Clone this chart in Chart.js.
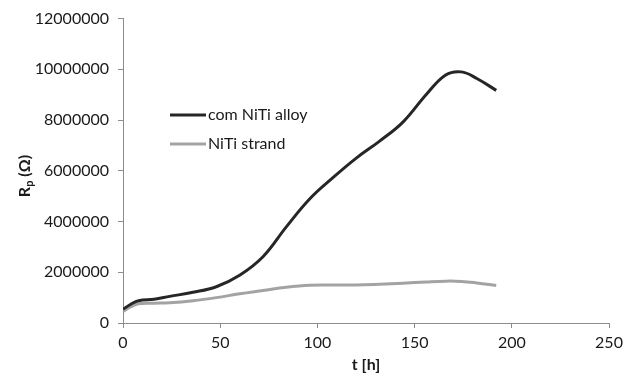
<!DOCTYPE html>
<html>
<head>
<meta charset="utf-8">
<script src="https://cdn.jsdelivr.net/npm/chart.js@4/dist/chart.umd.min.js"></script>
<style>
  html, body { margin: 0; padding: 0; background: #fff; }
  #wrap { width: 640px; height: 376px; position: relative; }
</style>
</head>
<body>
<div id="wrap"><canvas id="chart"></canvas></div>
<script>
// time points [h]
const hours = [0, 4, 8, 16, 24, 36, 48, 60, 72, 84, 96, 108, 120, 132, 144, 156, 166, 174, 182, 192];
// Rp values (Ohm)
const comNiTiAlloy = [540000, 740000, 880000, 940000, 1050000, 1210000, 1430000, 1880000, 2610000, 3790000,
  4890000, 5730000, 6500000, 7170000, 7920000, 9010000, 9780000, 9900000, 9640000, 9170000];
const nitiStrand = [450000, 640000, 760000, 780000, 800000, 880000, 1000000, 1150000, 1280000, 1410000,
  1490000, 1500000, 1500000, 1530000, 1570000, 1620000, 1650000, 1640000, 1580000, 1480000];
const seriesNames = ['com NiTi alloy', 'NiTi strand'];
const xTicks = [0, 50, 100, 150, 200, 250];
const yTicks = [0, 2000000, 4000000, 6000000, 8000000, 10000000, 12000000];

const FONT = 'Lato, "Open Sans", sans-serif';

const ctx = document.getElementById('chart').getContext('2d');

// legend drawn inside the plot area, like the original
const insideLegend = {
  id: 'insideLegend',
  afterDraw(chart) {
    const c = chart.ctx;
    const rows = [115, 144];
    chart.data.datasets.forEach((ds, i) => {
      c.save();
      c.strokeStyle = ds.borderColor;
      c.lineWidth = 3;
      c.beginPath();
      c.moveTo(170, rows[i]);
      c.lineTo(206, rows[i]);
      c.stroke();
      c.fillStyle = '#1a1a1a';
      c.font = '16px ' + FONT;
      c.textBaseline = 'middle';
      c.fillText(ds.label, 208, rows[i]);
      c.restore();
    });
  }
};

// y title with subscript p
const yTitle = {
  id: 'yTitle',
  afterDraw(chart) {
    const c = chart.ctx;
    c.save();
    c.translate(25, 176);
    c.rotate(-Math.PI / 2);
    c.fillStyle = '#1a1a1a';
    c.textBaseline = 'middle';
    const parts = [['R', 'bold 16px ', 0], ['p', 'bold 11px ', 4], [' (\u03A9)', 'bold 16px ', 0]];
    let w = 0;
    parts.forEach(p => { c.font = p[1] + FONT; w += c.measureText(p[0]).width; });
    let x = -w / 2;
    parts.forEach(p => {
      c.font = p[1] + FONT;
      c.fillText(p[0], x, p[2]);
      x += c.measureText(p[0]).width;
    });
    c.restore();
  }
};

const chart = new Chart(ctx, {
  type: 'line',
  data: {
    datasets: [
      {
        label: seriesNames[0],
        data: hours.map((t, i) => ({ x: t, y: comNiTiAlloy[i] })),
        borderColor: '#262626',
        borderWidth: 3,
        pointRadius: 0,
        tension: 0.4,
        fill: false
      },
      {
        label: seriesNames[1],
        data: hours.map((t, i) => ({ x: t, y: nitiStrand[i] })),
        borderColor: '#a3a3a3',
        borderWidth: 3,
        pointRadius: 0,
        tension: 0.4,
        fill: false
      }
    ]
  },
  options: {
    responsive: true,
    maintainAspectRatio: false,
    animation: false,
    layout: { padding: { top: 18, right: 31, left: 0, bottom: 0 } },
    plugins: {
      legend: { display: false },
      tooltip: { enabled: false }
    },
    scales: {
      x: {
        type: 'linear',
        min: 0,
        max: 250,
        afterBuildTicks: s => { s.ticks = xTicks.map(v => ({ value: v })); },
        afterFit: s => { s.height = 53; },
        grid: { drawOnChartArea: false, color: '#8c8c8c', tickLength: 5 },
        border: { color: '#8c8c8c', width: 1 },
        ticks: { color: '#1a1a1a', font: { family: FONT, size: 16 }, padding: 5, maxRotation: 0 },
        title: { display: true, text: 't [h]', color: '#1a1a1a', font: { family: FONT, size: 16, weight: 'bold' }, padding: { top: 0, bottom: 2 } }
      },
      y: {
        min: 0,
        max: 12000000,
        afterBuildTicks: s => { s.ticks = yTicks.map(v => ({ value: v })); },
        afterFit: s => { s.width = 123; },
        grid: { drawOnChartArea: false, color: '#8c8c8c', tickLength: 5 },
        border: { color: '#8c8c8c', width: 1 },
        ticks: { color: '#1a1a1a', font: { family: FONT, size: 16 }, padding: 9, callback: v => String(v) }
      }
    }
  },
  plugins: [insideLegend, yTitle]
});
</script>
</body>
</html>
